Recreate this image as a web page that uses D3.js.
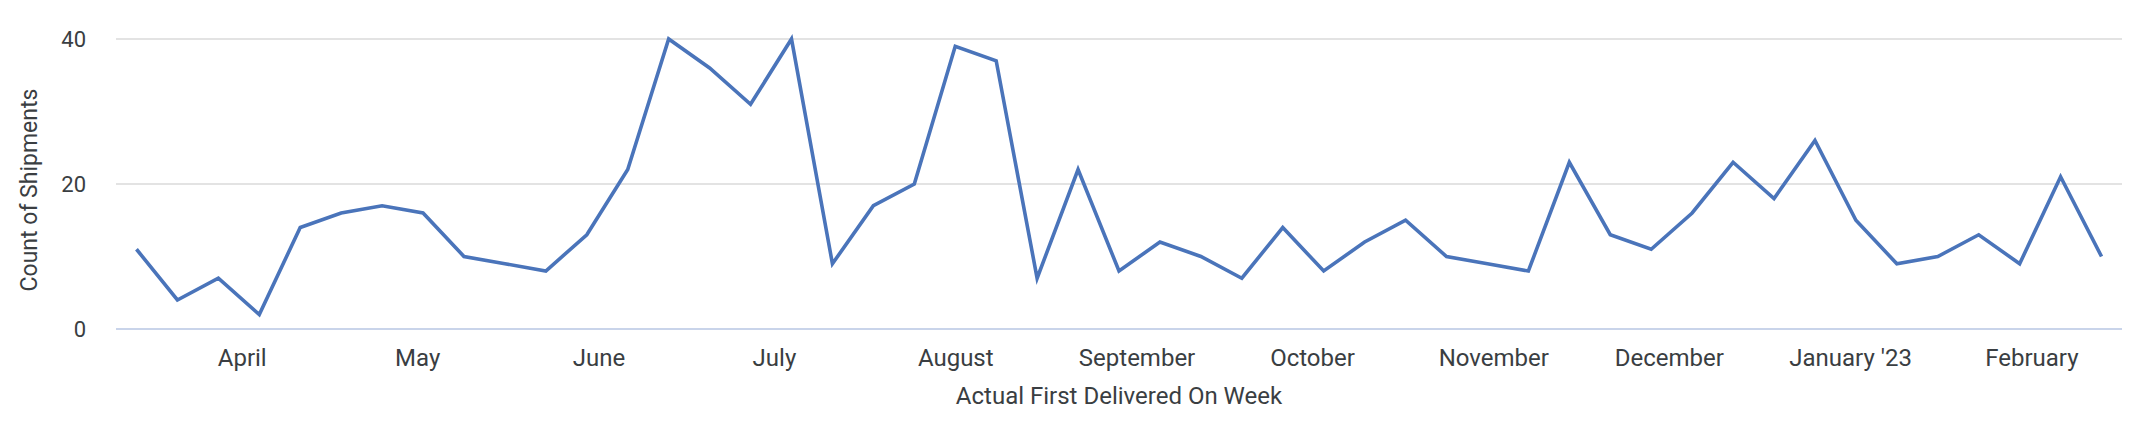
<!DOCTYPE html>
<html>
<head>
<meta charset="utf-8">
<script src="https://cdn.jsdelivr.net/npm/d3@7"></script>
<style>
  html, body { margin: 0; padding: 0; background: #fff; }
  text { font-family: Roboto, "Noto Sans", sans-serif; }
</style>
</head>
<body>
<div id="main"></div>
<script>
// weekly buckets (week starting Monday)
var weeks = [
  "2022-03-14", "2022-03-21", "2022-03-28", "2022-04-04", "2022-04-11", "2022-04-18", "2022-04-25",
  "2022-05-02", "2022-05-09", "2022-05-16", "2022-05-23", "2022-05-30", "2022-06-06", "2022-06-13",
  "2022-06-20", "2022-06-27", "2022-07-04", "2022-07-11", "2022-07-18", "2022-07-25", "2022-08-01",
  "2022-08-08", "2022-08-15", "2022-08-22", "2022-08-29", "2022-09-05", "2022-09-12", "2022-09-19",
  "2022-09-26", "2022-10-03", "2022-10-10", "2022-10-17", "2022-10-24", "2022-10-31", "2022-11-07",
  "2022-11-14", "2022-11-21", "2022-11-28", "2022-12-05", "2022-12-12", "2022-12-19", "2022-12-26",
  "2023-01-02", "2023-01-09", "2023-01-16", "2023-01-23", "2023-01-30", "2023-02-06", "2023-02-13"
];
var shipments = [
  11, 4, 7, 2, 14, 16, 17,
  16, 10, 9, 8, 13, 22, 40,
  36, 31, 40, 9, 17, 20, 39,
  37, 7, 22, 8, 12, 10, 7,
  14, 8, 12, 15, 10, 9, 8,
  23, 13, 11, 16, 23, 18, 26,
  15, 9, 10, 13, 9, 21, 10
];

var monthTicks = ["2022-04-01", "2022-05-01", "2022-06-01", "2022-07-01", "2022-08-01", "2022-09-01",
                  "2022-10-01", "2022-11-01", "2022-12-01", "2023-01-01", "2023-02-01"];
var monthLabels = ["April", "May", "June", "July", "August", "September",
                   "October", "November", "December", "January '23", "February"];
var yTicks = [0, 20, 40];

var W = 2140, H = 434;
var margin = {top: 39, right: 18, bottom: 105, left: 116},
    width = W - margin.left - margin.right,
    height = H - margin.top - margin.bottom;

var parse = d3.utcParse("%Y-%m-%d");
var data = weeks.map(function(w, i) {
    return {week: parse(w), count: shipments[i]};
});

var svg = d3.select("#main")
  .append("svg")
    .attr("width", W)
    .attr("height", H)
  .append("g")
    .attr("transform", "translate(" + margin.left + "," + margin.top + ")");

// half a week of padding on each side
var halfWeek = 3.5 * 24 * 3600 * 1000;
var x = d3.scaleUtc()
    .domain([new Date(data[0].week - halfWeek), new Date(+data[data.length - 1].week + halfWeek)])
    .range([0, width]);

var y = d3.scaleLinear()
    .domain([0, 40])
    .range([height, 0]);

var textColor = "#3a3e42";

// gridlines
svg.append("g")
  .selectAll("line")
  .data(yTicks.filter(function(d) { return d > 0; }))
  .enter().append("line")
    .attr("x1", 0)
    .attr("x2", width)
    .attr("y1", function(d) { return y(d); })
    .attr("y2", function(d) { return y(d); })
    .attr("stroke", "#e3e3e3")
    .attr("stroke-width", 2);

// baseline
svg.append("line")
    .attr("x1", 0)
    .attr("x2", width)
    .attr("y1", y(0))
    .attr("y2", y(0))
    .attr("stroke", "#c9d4ea")
    .attr("stroke-width", 2);

// y axis
var yAxis = svg.append("g")
    .call(d3.axisLeft(y).tickValues(yTicks).tickSize(0).tickPadding(30));
yAxis.select(".domain").remove();
yAxis.selectAll("text")
    .attr("font-size", "22px")
    .attr("font-family", "Roboto, sans-serif")
    .attr("fill", textColor);

// x axis
var xAxis = svg.append("g")
    .attr("transform", "translate(0," + height + ")")
    .call(d3.axisBottom(x)
      .tickValues(monthTicks.map(parse))
      .tickFormat(function(d, i) { return monthLabels[i]; })
      .tickSize(0)
      .tickPadding(20));
xAxis.select(".domain").remove();
xAxis.selectAll("text")
    .attr("font-size", "24px")
    .attr("font-family", "Roboto, sans-serif")
    .attr("fill", textColor);

// line
var line = d3.line()
    .x(function(d) { return x(d.week); })
    .y(function(d) { return y(d.count); });

svg.append("path")
    .datum(data)
    .attr("fill", "none")
    .attr("stroke", "#4a74ba")
    .attr("stroke-width", 3.6)
    .attr("d", line);

// axis titles
svg.append("text")
    .attr("text-anchor", "middle")
    .attr("x", width / 2)
    .attr("y", 404 - margin.top)
    .attr("font-size", "24px")
    .attr("fill", textColor)
    .text("Actual First Delivered On Week");

svg.append("text")
    .attr("text-anchor", "middle")
    .attr("transform", "translate(" + (37 - margin.left) + "," + (190 - margin.top) + ") rotate(-90)")
    .attr("font-size", "23px")
    .attr("fill", textColor)
    .text("Count of Shipments");
</script>
</body>
</html>
